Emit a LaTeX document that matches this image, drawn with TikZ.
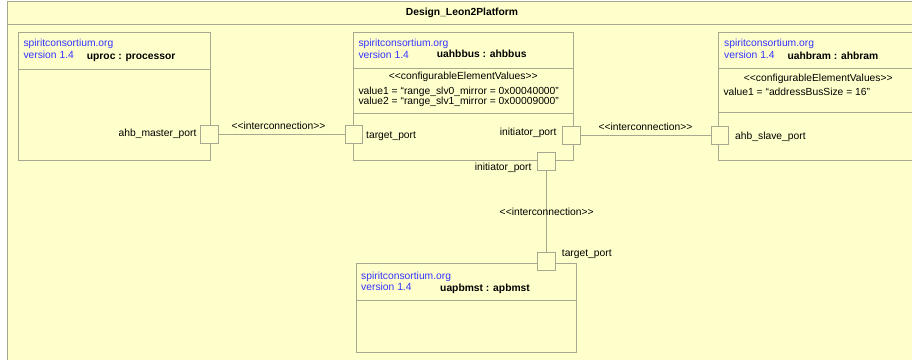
\documentclass[tikz,border=0pt]{standalone}
\usepackage{fontspec}
\setmainfont{Liberation Sans}
\definecolor{bgyellow}{RGB}{255,255,204}
\definecolor{linegray}{RGB}{168,168,145}
\definecolor{txtblue}{RGB}{51,51,255}
\begin{document}
\begin{tikzpicture}[x=1pt,y=-1pt,
  every node/.style={font=\fontsize{10.3}{12}\selectfont},
  frame/.style={draw=linegray, line width=0.9pt, fill=bgyellow},
  box/.style={draw=linegray, line width=0.9pt, fill=bgyellow, inner sep=0pt, anchor=north west},
  sep/.style={draw=linegray, line width=0.9pt},
  port/.style={draw=linegray, line width=0.9pt, fill=bgyellow, minimum width=17.5pt, minimum height=18pt, inner sep=0pt},
  conn/.style={draw=linegray, line width=0.9pt},
  lbl/.style={inner sep=0pt, anchor=base west, text=black},
  lblr/.style={inner sep=0pt, anchor=base east, text=black},
  lblc/.style={inner sep=0pt, anchor=base, text=black},
  blue/.style={inner sep=0pt, anchor=base west, text=txtblue},
  bold/.style={inner sep=0pt, anchor=base west, text=black, font=\fontsize{10.3}{12}\selectfont\bfseries}
]
\useasboundingbox (0,0) rectangle (912,359);
\fill[white] (0,0) rectangle (912,359);
\clip (0,0) rectangle (912,359);
% outer frame
\node[box, minimum width=960pt, minimum height=400pt] (frame) at (7,0.5) {};
\draw[sep] (frame.west |- 0,24.5) -- (frame.east |- 0,24.5);
\node[bold, anchor=base] (title) at (462,15.7) {Design\_Leon2Platform};

% uproc box
\node[box, minimum width=192.3pt, minimum height=128.3pt] (uproc) at (18,31.7) {};
\draw[sep] (uproc.west |- 0,69) -- (uproc.east |- 0,69);
\node[blue] (uproc1) at (23.3,46.7) {spiritconsortium.org};
\node[blue] (uproc2) at (23.3,58.5) {version 1.4};
\node[bold] (uproc3) at (86.7,59) {uproc : processor};

% ahbbus box
\node[box, minimum width=220pt, minimum height=128.3pt] (ahbbus) at (353.3,31.7) {};
\draw[sep] (ahbbus.west |- 0,68.3) -- (ahbbus.east |- 0,68.3);
\draw[sep] (ahbbus.west |- 0,113.3) -- (ahbbus.east |- 0,113.3);
\node[blue] (ahbbus1) at (358.3,46.7) {spiritconsortium.org};
\node[blue] (ahbbus2) at (358.3,58) {version 1.4};
\node[bold] (ahbbus3) at (436.7,57) {uahbbus : ahbbus};
\node[lblc] (ahbbus4) at (463.3,79.5) {<{}<configurableElementValues>{}>};
\node[lbl] (ahbbus5) at (358.3,94.5) {value1 = “range\_slv0\_mirror = 0x00040000”};
\node[lbl] (ahbbus6) at (358.3,104.5) {value2 = “range\_slv1\_mirror = 0x00009000”};

% ahbram box
\node[box, minimum width=230pt, minimum height=128.3pt] (ahbram) at (718.3,31.7) {};
\draw[sep] (ahbram.west |- 0,68.3) -- (ahbram.east |- 0,68.3);
\draw[sep] (ahbram.west |- 0,112.7) -- (ahbram.east |- 0,112.7);
\node[blue] (ahbram1) at (724,46.7) {spiritconsortium.org};
\node[blue] (ahbram2) at (724,58.3) {version 1.4};
\node[bold] (ahbram3) at (787.3,59.3) {uahbram : ahbram};
\node[lblc] (ahbram4) at (818.3,81) {<{}<configurableElementValues>{}>};
\node[lbl] (ahbram5) at (723.3,95) {value1 = “addressBusSize = 16”};

% apbmst box
\node[box, minimum width=220.3pt, minimum height=88.4pt] (apbmst) at (355.7,263.3) {};
\draw[sep] (apbmst.west |- 0,300) -- (apbmst.east |- 0,300);
\node[blue] (apbmst1) at (361,279) {spiritconsortium.org};
\node[blue] (apbmst2) at (361,290.7) {version 1.4};
\node[bold] (apbmst3) at (440,291.5) {uapbmst : apbmst};

% ports
\node[port] (pmaster) at (209.2,134.7) {};
\node[port] (ptarget) at (353.7,134.7) {};
\node[port] (pinitr) at (571.5,135.6) {};
\node[port] (pinitb) at (546.3,161.3) {};
\node[port] (pslave) at (720,135.6) {};
\node[port] (ptargetb) at (546.3,261.7) {};

% connectors
\draw[conn] (pmaster) -- (ptarget);
\draw[conn] (pinitr) -- (pslave);
\draw[conn] (pinitb) -- (ptargetb);

% port labels
\node[lblr] (lmaster) at (196.7,136.7) {ahb\_master\_port};
\node[lbl] (ltarget) at (366,138.3) {target\_port};
\node[lblr] (linitr) at (556.7,135.3) {initiator\_port};
\node[lblr] (linitb) at (531.7,170) {initiator\_port};
\node[lbl] (lslave) at (735,139.3) {ahb\_slave\_port};
\node[lbl] (ltargetb) at (561.7,256.7) {target\_port};

% connector labels
\node[lblc] (ic1) at (278.5,129.3) {<{}<interconnection>{}>};
\node[lblc] (ic2) at (645.5,130) {<{}<interconnection>{}>};
\node[lblc] (ic3) at (546.7,215) {<{}<interconnection>{}>};
\end{tikzpicture}
\end{document}
